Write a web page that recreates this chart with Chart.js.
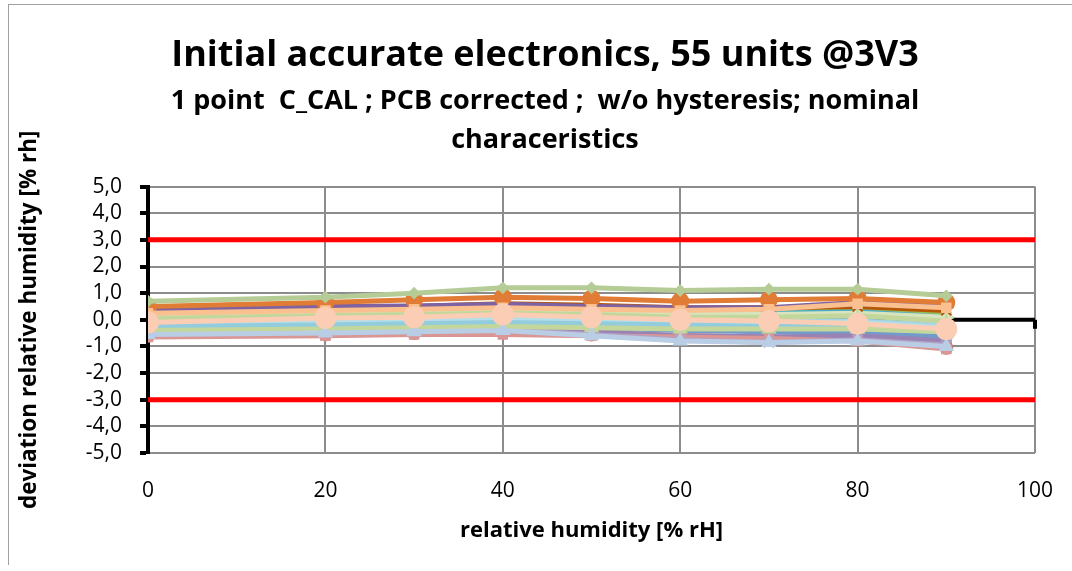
<!DOCTYPE html>
<html>
<head>
<meta charset="utf-8">
<script src="https://cdn.jsdelivr.net/npm/chart.js@4.4.1/dist/chart.umd.min.js"></script>
<style>
  body { margin: 0; background: #fff; }
  #wrap { position: relative; width: 1072px; height: 571px; }
  #frame { position: absolute; left: 8px; top: 4px; right: 0; bottom: 6px;
           border-left: 1px solid #a0a0a0; border-top: 1px solid #a0a0a0; pointer-events: none; }
</style>
</head>
<body>
<div id="wrap">
  <canvas id="grafico" width="1072" height="571"></canvas>
  <div id="frame"></div>
</div>
<script>
// humidity steps (% rH)
const humidity = [0, 20, 30, 40, 50, 60, 70, 80, 90];

// deviation per unit (a selection of the 55 units), bottom layer first
const unitDeviations = [
  [0.05, 0.15, 0.15, 0.25, 0.15, 0.05, 0.0, 0.0, -0.15],
  [-0.55, -0.5, -0.45, -0.4, -0.5, -0.6, -0.65, -0.7, -0.95],
  [0.2, 0.35, 0.4, 0.45, 0.4, 0.3, 0.3, 0.35, 0.2],
  [0.1, 0.2, 0.25, 0.3, 0.2, 0.3, 0.25, 0.3, 0.1],
  [-0.3, -0.2, -0.2, -0.15, -0.25, -0.35, -0.4, -0.45, -0.6],
  [-0.2, -0.1, -0.05, 0.0, -0.1, -0.2, -0.25, -0.3, -0.45],
  [0.15, 0.25, 0.3, 0.35, 0.3, 0.2, 0.2, 0.25, 0.1],
  [-0.1, 0.0, 0.05, 0.1, 0.0, -0.1, -0.15, -0.15, -0.3],
  [0.0, 0.1, 0.12, 0.2, 0.1, 0.0, -0.05, -0.05, -0.2],
  [0.3, 0.45, 0.5, 0.6, 0.55, 0.45, 0.45, 0.5, 0.35],
  [-0.35, -0.3, -0.25, -0.2, -0.3, -0.4, -0.45, -0.5, -0.65],
  [-0.6, -0.55, -0.5, -0.45, -0.55, -0.65, -0.7, -0.75, -1.05],
  [0.05, 0.15, 0.2, 0.25, 0.2, 0.1, 0.1, 0.15, -0.05],
  [-0.45, -0.4, -0.35, -0.3, -0.45, -0.6, -0.65, -0.6, -0.8],
  [-0.15, -0.05, 0.0, 0.05, -0.05, -0.1, -0.15, -0.1, -0.3],
  [0.4, 0.5, 0.52, 0.58, 0.5, 0.45, 0.45, 0.65, 0.6],
  [0.5, 0.65, 0.75, 0.85, 0.8, 0.7, 0.75, 0.8, 0.65],
  [0.25, 0.35, 0.4, 0.45, 0.4, 0.35, 0.4, 0.6, 0.45],
  [-0.65, -0.6, -0.55, -0.55, -0.6, -0.65, -0.7, -0.8, -1.1],
  [-0.5, -0.45, -0.4, -0.35, -0.55, -0.75, -0.85, -0.75, -0.95],
  [-0.25, -0.2, -0.15, -0.1, -0.15, -0.2, -0.25, -0.2, -0.35],
  [-0.4, -0.35, -0.3, -0.25, -0.3, -0.35, -0.35, -0.35, -0.45],
  [-0.55, -0.5, -0.45, -0.4, -0.6, -0.8, -0.85, -0.8, -1.0],
  [0.7, 0.85, 1.0, 1.2, 1.2, 1.1, 1.15, 1.15, 0.9],
  [-0.1, 0.07, 0.1, 0.2, 0.1, 0.0, -0.05, -0.15, -0.35]
];

const unitColors = [
  '#4F81BD', '#C0504D', '#9BBB59', '#4BACC6', '#95B3D7', '#E6B9B8',
  '#D7E4BD', '#CCC1DA', '#A5D5E2', '#B65708', '#729ACA', '#CD7371',
  '#C3D69B', '#9983B5', '#B7DEE8', '#7E62A1', '#E07C35', '#FAC090',
  '#D99694', '#B3A2C7', '#93CDDD', '#C3D69B', '#B9CDE5', '#B5CC96', '#FBCDB5'
];

const unitMarkers = [
  'rectRot', 'rect', 'triangle', 'star', 'circle', 'cross',
  'rectRot', 'rect', 'triangle', 'crossRot', 'star', 'circle',
  'cross', 'crossRot', 'rectRot', 'triangle', 'circle', 'rect',
  'rect', 'crossRot', 'star', 'triangle', 'triangle', 'rectRot', 'circle'
];

const markerSizes = [
  6, 6, 7, 7, 6, 6,
  6, 6, 7, 7, 7, 6,
  7, 7, 6, 7, 8, 6,
  6, 7, 7, 7, 7, 5, 10
];

const limitX = [0, 100];
const upperLimit = [3, 3];
const lowerLimit = [-3, -3];

const yTicksMin = -5;
const yTicksMax = 5;

const chartTitle = 'Initial accurate electronics, 55 units @3V3';
const chartSubtitle = ['1 point  C_CAL ; PCB corrected ;  w/o hysteresis; nominal', 'characeristics'];
const xTitle = 'relative humidity [% rH]';
const yTitle = 'deviation relative humidity [% rh]';

const fonte = '"Open Sans", Lato, sans-serif';

// Excel style horizontal axis crossing at 0 (labels stay at the bottom)
const eixoZero = {
  id: 'eixoZero',
  beforeDatasetsDraw(chart) {
    const {ctx, scales: {x, y}} = chart;
    const y0 = y.getPixelForValue(0);
    ctx.save();
    ctx.strokeStyle = '#000';
    ctx.lineWidth = 4;
    ctx.beginPath();
    ctx.moveTo(x.getPixelForValue(0), y0);
    ctx.lineTo(x.getPixelForValue(100), y0);
    ctx.stroke();
    x.ticks.forEach(t => {
      const px = x.getPixelForValue(t.value);
      ctx.beginPath();
      ctx.moveTo(px, y0);
      ctx.lineTo(px, y0 + 9);
      ctx.stroke();
    });
    ctx.restore();
  }
};

document.addEventListener('DOMContentLoaded', function () {
  const ctx = document.getElementById('grafico').getContext('2d');

  const datasets = unitDeviations.map((vals, i) => ({
    label: 'unit ' + (i + 1),
    data: vals.map((v, k) => ({x: humidity[k], y: v})),
    borderColor: unitColors[i],
    backgroundColor: unitColors[i],
    borderWidth: 5,
    pointStyle: unitMarkers[i],
    pointRadius: markerSizes[i],
    pointBorderWidth: 2,
    tension: 0,
    order: unitDeviations.length - i + 2
  }));

  datasets.push({
    label: 'limit +',
    data: limitX.map((x, k) => ({x: x, y: upperLimit[k]})),
    borderColor: '#FF0000',
    borderWidth: 5,
    pointRadius: 0,
    order: 0
  });
  datasets.push({
    label: 'limit -',
    data: limitX.map((x, k) => ({x: x, y: lowerLimit[k]})),
    borderColor: '#FF0000',
    borderWidth: 5,
    pointRadius: 0,
    order: 1
  });

  new Chart(ctx, {
    type: 'line',
    data: { datasets: datasets },
    options: {
      responsive: false,
      animation: false,
      // left padding shifts the title centre to the right like the original
      layout: { padding: { left: 55, right: 37, top: 0, bottom: 0 } },
      plugins: {
        legend: { display: false },
        tooltip: { enabled: false },
        title: {
          display: true,
          text: chartTitle,
          color: '#000',
          font: { family: fonte, size: 36, weight: 'bold', lineHeight: 1.2 },
          padding: { top: 34, bottom: 4 }
        },
        subtitle: {
          display: true,
          text: chartSubtitle,
          color: '#000',
          font: { family: fonte, size: 27, weight: 'bold', lineHeight: 1.47 },
          padding: { top: 0, bottom: 26 }
        }
      },
      scales: {
        x: {
          type: 'linear',
          min: 0,
          max: 100,
          ticks: { stepSize: 20, padding: 3, color: '#000', font: { family: fonte, size: 21 } },
          grid: { color: '#8C8C8C', lineWidth: 2, drawTicks: true, tickLength: 22, tickColor: 'rgba(0,0,0,0)' },
          border: { display: false },
          title: {
            display: true, text: xTitle, color: '#000',
            font: { family: fonte, size: 22, weight: 'bold' },
            padding: { top: 0, bottom: 27 }
          },
          afterFit(scale) { scale.height = 118; }
        },
        y: {
          min: yTicksMin,
          max: yTicksMax,
          ticks: {
            stepSize: 1, padding: 18, color: '#000', autoSkip: false,
            font: { family: fonte, size: 21 },
            callback: v => v.toFixed(1).replace('.', ',')
          },
          grid: { color: '#8C8C8C', lineWidth: 2, tickColor: '#000', tickWidth: 4, tickLength: 8 },
          border: { color: '#000', width: 4 },
          title: {
            display: true, text: yTitle, color: '#000',
            font: { family: fonte, size: 22.5, weight: 'bold' },
            padding: { top: -39, bottom: 0 }
          },
          afterFit(scale) { scale.width = 93; }
        }
      }
    },
    plugins: [eixoZero]
  });
});
</script>
</body>
</html>
